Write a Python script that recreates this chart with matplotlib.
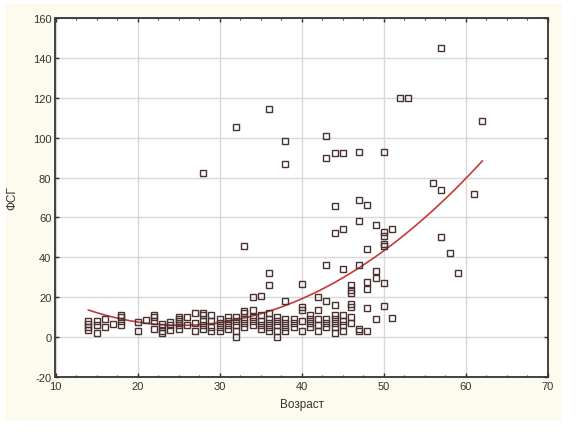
import numpy as np
import matplotlib
matplotlib.use("Agg")
import matplotlib.pyplot as plt
from matplotlib.patches import Rectangle

plt.rcParams['font.family'] = ['Liberation Sans', 'DejaVu Sans']
plt.rcParams['axes.unicode_minus'] = False

# scatter data: age -> list of FSH values
age_groups = [14, 15, 16, 17, 18, 20, 21, 22, 23, 24, 25, 26, 27, 28, 29, 30,
              31, 32, 33, 34, 35, 36, 37, 38, 39, 40, 41, 42, 43, 44, 45, 46,
              47, 48, 49, 50, 51, 52, 53, 56, 57, 58, 59, 61, 62]
fsh_groups = [
    [3.5, 5, 6.5, 8],
    [2, 6, 8],
    [5, 9],
    [6.5],
    [6, 8, 10, 11],
    [3, 7.5],
    [8.5],
    [4, 8, 10, 11],
    [2, 3, 5, 6.5],
    [3.5, 6, 7.5],
    [4, 6, 8, 9, 10],
    [6, 10],
    [3, 7, 12],
    [4, 6, 8, 11, 12, 82.5],
    [3, 5, 8, 11],
    [3, 5, 7, 9],
    [4, 6, 8, 10],
    [0, 3, 6, 8, 10, 105.3],
    [5, 7, 9, 12, 13.3, 45.6],
    [6, 8, 10, 13.6, 20],
    [4, 6, 8, 11, 20.8],
    [3, 5, 7, 9, 12, 26, 32, 114.3],
    [0, 3, 6, 8, 10],
    [3, 5, 7, 9, 18, 87, 98.2],
    [5, 7, 9],
    [3, 8, 13.6, 15.3, 26.5],
    [5, 7, 9, 11],
    [3, 6, 9, 13.6, 20],
    [5, 7, 9, 18, 36, 90, 101],
    [2, 5, 7, 9, 11, 16, 52.4, 65.6, 92.5],
    [3, 6, 8, 11, 34.3, 54.4, 92.5],
    [7, 10, 15, 16.5, 22.3, 23.8, 26],
    [3, 4, 36, 58.4, 68.7, 92.8],
    [3, 14.5, 24, 27.5, 44, 66],
    [9, 29.6, 33.3, 56],
    [15.8, 27, 45.6, 46.6, 50.6, 52.7, 92.8],
    [9.8, 54.4],
    [120],
    [120],
    [77.5],
    [50.4, 74, 145],
    [42],
    [32],
    [72],
    [108.3],
]

# points
curve_age = [14, 17, 20, 25, 30, 33, 36, 40, 44.7, 47, 50, 53, 56, 62]
curve_fsh = [13.2, 10.3, 8.2, 6.5, 7.3, 9, 11.5, 18.6, 29, 35, 43.5, 53, 67, 86]

x_ticks = [10, 20, 30, 40, 50, 60, 70]
y_ticks = [-20, 0, 20, 40, 60, 80, 100, 120, 140, 160]

ages = np.concatenate([[a] * len(v) for a, v in zip(age_groups, fsh_groups)])
fsh = np.concatenate(fsh_groups)

fig = plt.figure(figsize=(5.79, 4.35), dpi=100, facecolor='white')
# cream panel behind the chart
fig.patches.append(Rectangle((5 / 579, 13 / 435), 557 / 579, 417 / 435,
                             transform=fig.transFigure, facecolor='#fdfaee',
                             edgecolor='none', zorder=-10))

ax = fig.add_axes([55.5 / 579, 1 - 378 / 435, 492.5 / 579, 359 / 435])
ax.set_zorder(1)
ax.set_facecolor('white')

coef = np.polyfit(curve_age, curve_fsh, 2)
xs = np.linspace(curve_age[0], curve_age[-1], 200)
ax.plot(xs, np.polyval(coef, xs), color='#c23a3a', lw=1.2, zorder=2)

ax.plot(ages, fsh, linestyle='none', marker='s', markersize=4.4,
        markerfacecolor='none', markeredgecolor='#4a3030', markeredgewidth=1.0,
        zorder=3)

ax.set_xlim(10, 70)
ax.set_ylim(-20, 160)
ax.set_xticks(x_ticks)
ax.set_yticks(y_ticks)
ax.set_xticks(np.arange(10, 70.1, 2.5), minor=True)
ax.grid(True, color='#d8d8d8', lw=1.0, zorder=0)
ax.set_axisbelow(True)
ax.tick_params(which='both', direction='in', top=True, right=True,
               labelsize=8, colors='#333333', pad=3)
ax.tick_params(which='major', length=3, width=1)
ax.tick_params(which='minor', length=1.5, width=0.8)
for s in ax.spines.values():
    s.set_color('#333333')
    s.set_linewidth(1.3)

ax.set_xlabel('Возраст', fontsize=8.5, color='#333333', labelpad=5)
ax.set_ylabel('ФСГ', fontsize=8.5, color='#333333', labelpad=10)

fig.savefig('out.png', dpi=100, facecolor=fig.get_facecolor())
